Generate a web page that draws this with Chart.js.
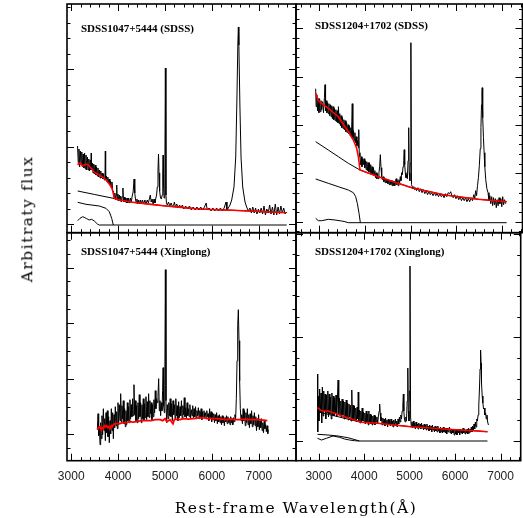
<!DOCTYPE html>
<html>
<head>
<meta charset="utf-8">
<script src="https://cdn.jsdelivr.net/npm/chart.js@4"></script>
<style>
  body { margin: 0; background: #fff; }
  #wrap { position: relative; width: 523px; height: 518px; overflow: hidden; background: #fff; }
  canvas { position: absolute; left: 0; top: 0; }
  .ptitle { position: absolute; font-family: 'Liberation Serif', serif; font-weight: bold; font-size: 11px; line-height: 11px; white-space: nowrap; color: #000; }
  .axt { position: absolute; font-family: 'DejaVu Serif', serif; font-size: 15.5px; line-height: 1; white-space: nowrap; color: #000; letter-spacing: 1.5px; }
</style>
</head>
<body>
<div id="wrap">
  <canvas id="cTL" width="523" height="518"></canvas>
  <canvas id="cTR" width="523" height="518"></canvas>
  <canvas id="cBL" width="523" height="518"></canvas>
  <canvas id="cBR" width="523" height="518"></canvas>
  <div class="ptitle" id="tTL" style="left:81px;top:23px"></div>
  <div class="ptitle" id="tTR" style="left:315px;top:20px"></div>
  <div class="ptitle" id="tBL" style="left:81px;top:246px"></div>
  <div class="ptitle" id="tBR" style="left:315px;top:246px"></div>
  <div class="axt" id="xTitle" style="left:146px;top:501px;width:300px;text-align:center"></div>
  <div class="axt" id="yTitle" style="left:28px;top:219px;transform:translate(-50%,-50%) rotate(-90deg)"></div>
</div>
<script>
// --- labels ---
const panelTitles = ['SDSS1047+5444 (SDSS)', 'SDSS1204+1702 (SDSS)', 'SDSS1047+5444 (Xinglong)', 'SDSS1204+1702 (Xinglong)'];
const xTitle = 'Rest-frame Wavelength(Å)';
const yTitle = 'Arbitraty flux';
const xTickLabels = [3000, 4000, 5000, 6000, 7000];

// --- SDSS1047+5444, SDSS spectrum [wavelength, flux] ---
const tlSpec = [
  [3135,79],[3150,62],[3165,76],[3180,58],[3195,74],[3210,60],[3225,73],[3240,58],[3255,71],[3270,57],
  [3285,72],[3300,56],[3315,70],[3330,55],[3345,68],[3360,55],[3375,66],[3390,54],[3405,65],[3420,55],
  [3426,72],[3432,56],[3450,62],[3465,52],[3480,61],[3495,51],[3510,60],[3525,50],[3540,58],[3555,49],
  [3570,57],[3585,48],[3600,55],[3615,47],[3630,54],[3645,47],[3660,52],[3675,46],[3690,51],[3705,45],
  [3720,50],[3727,74],[3734,45],[3750,49],[3765,43],[3780,48],[3795,42],[3810,46],[3825,40],[3840,44],
  [3855,37],[3869,43],[3885,33],[3900,34],[3915,27],[3930,32],[3945,25],[3960,30],[3970,40],[3980,25],
  [3995,31],[4010,24],[4025,30],[4040,24],[4055,29],[4070,23],[4085,28],[4102,37],[4115,23],[4130,28],
  [4145,23],[4160,27],[4175,22],[4190,27],[4205,22],[4220,27],[4240,22],[4260,27],[4280,23],[4300,29],
  [4320,33],[4340,46],[4355,32],[4370,26],[4385,22],[4400,26],[4420,21],[4440,25],[4460,21],[4480,25],
  [4500,21],[4520,25],[4545,21],[4570,25],[4595,21],[4620,25],[4645,22],[4665,26],[4686,30],[4705,23],
  [4725,26],[4745,21],[4765,26],[4785,22],[4805,27],[4820,30],[4835,38],[4850,55],[4861,71],[4872,52],
  [4885,34],[4900,28],[4920,26],[4940,30],[4952,48],[4959,70],[4966,40],[4980,27],[4995,40],[5007,157],
  [5019,30],[5030,22],[5050,20],[5075,23],[5100,19],[5130,22],[5160,18],[5190,21],[5200,23],[5220,18],
  [5250,21],[5280,17],[5310,20],[5340,17],[5370,20],[5400,16],[5440,19],[5480,16],[5520,19],[5560,15],
  [5600,18],[5640,15],[5680,18],[5720,15],[5760,18],[5800,15],[5840,18],[5876,22],[5900,15],[5940,17],
  [5980,14],[6020,17],[6060,14],[6100,17],[6140,14],[6180,17],[6220,14],[6260,17],[6300,23],[6320,15],
  [6349,17],[6385,20],[6421,25],[6470,38],[6507,68],[6530,120],[6552,180],[6563,198],[6574,180],[6596,120],
  [6620,68],[6656,38],[6705,23],[6740,18],[6776,14],[6810,17],[6840,12],[6870,18],[6900,12],[6930,17],
  [6960,11],[6990,16],[7020,12],[7050,17],[7080,11],[7110,19],[7140,10],[7170,16],[7200,12],[7230,20],
  [7260,11],[7290,18],[7320,10],[7350,21],[7380,10],[7410,18],[7440,11],[7470,19],[7500,12],[7530,17],
  [7560,11],[7594,13]
];
const tlFit = [
  [3138,60],[3170,62],[3209,61.5],[3240,59],[3279,60],[3310,61],[3351,60.5],[3390,58.5],[3422,56.7],[3470,54],
  [3528,51.7],[3599,50],[3650,48.5],[3705,46.7],[3750,44.5],[3799,41.7],[3840,39],[3869,36.7],[3895,32],[3918,26.7],
  [3955,25.7],[4300,22.8],[4700,20.6],[5021,19],[5400,17.4],[5731,16],[6100,15.3],[6443,14.7],[7000,13.5],[7579,12.3]
];
const tlPower = [[3138,34],[3500,30.5],[3918,26.5],[4300,22.8],[4700,20.6],[5021,19],[5731,16],[6443,14.7],[7579,12.3]];
const tlBalmer = [[3138,22.7],[3315,20.7],[3599,19],[3741,16.7],[3812,13.3],[3863,6.7],[3897,0]];
const tlHost = [[3138,4.3],[3187,6.7],[3245,8.3],[3292,7.3],[3330,6.3],[3384,5],[3437,5.7],[3492,4],[3565,0.7],[3599,0],[7594,0]];

// --- SDSS1204+1702, SDSS spectrum ---
const trSpec = [
  [2929,134],[2940,116],[2955,128],[2970,112],[2987,124],[3000,110],[3015,124],[3030,111],[3045,122],[3060,113],
  [3080,121],[3100,110],[3120,125],[3133,138],[3145,112],[3160,122],[3175,110],[3190,120],[3205,109],[3220,119],
  [3235,107],[3250,118],[3265,106],[3280,117],[3295,104],[3310,116],[3325,103],[3340,114],[3355,102],[3370,113],
  [3385,101],[3400,112],[3415,100],[3426,116],[3440,99],[3455,109],[3470,97],[3485,107],[3500,95],[3515,105],
  [3530,94],[3545,103],[3560,93],[3575,102],[3590,91],[3605,100],[3620,90],[3635,98],[3650,89],[3665,97],
  [3680,87],[3695,95],[3710,86],[3727,119],[3740,84],[3755,92],[3770,82],[3785,90],[3800,80],[3815,86],
  [3830,77],[3845,82],[3860,75],[3869,93],[3880,70],[3895,66],[3910,58],[3925,66],[3940,56],[3955,64],
  [3970,58],[3985,64],[4000,55],[4015,62],[4030,53],[4045,61],[4060,52],[4075,60],[4090,51],[4102,60],
  [4115,50],[4130,58],[4145,49],[4160,56],[4175,48],[4190,55],[4205,47],[4220,52],[4235,45],[4250,50],
  [4265,44],[4280,49],[4295,44],[4310,50],[4325,56],[4340,68],[4355,55],[4370,46],[4385,43],[4400,46],
  [4415,41],[4430,45],[4445,40],[4460,44],[4475,40],[4490,43],[4505,39],[4520,43],[4535,38],[4550,42],
  [4565,38],[4580,42],[4595,37],[4610,42],[4625,37],[4640,41],[4655,37],[4670,42],[4686,44],[4700,38],
  [4715,42],[4730,37],[4745,43],[4760,39],[4775,46],[4790,42],[4805,50],[4820,48],[4835,56],[4850,62],
  [4861,73],[4872,58],[4885,50],[4900,45],[4915,48],[4930,44],[4945,62],[4959,95],[4970,50],[4985,42],
  [4995,60],[5007,180],[5020,38],[5035,36],[5050,34],[5070,36],[5090,33],[5110,35],[5130,32],[5160,35],
  [5190,31],[5220,34],[5250,30],[5280,33],[5310,29],[5340,32],[5370,28],[5400,31],[5430,28],[5460,30],
  [5490,27],[5520,30],[5550,27],[5580,29],[5610,26],[5640,29],[5670,26],[5700,28],[5730,25],[5760,29],
  [5790,26],[5820,30],[5850,29],[5876,31],[5900,27],[5930,25],[5960,28],[5990,24],[6020,27],[6050,23],
  [6080,26],[6110,22],[6140,25],[6170,22],[6200,25],[6230,21],[6260,24],[6290,21],[6320,25],[6350,22],
  [6380,28],[6400,24],[6420,32],[6440,27],[6460,37],[6480,45],[6500,57],[6520,74],[6535,95],[6548,118],
  [6557,130],[6563,135],[6570,118],[6578,105],[6590,85],[6605,70],[6620,56],[6640,43],[6665,34],[6690,30],
  [6710,22],[6730,27],[6750,19],[6770,26],[6790,17],[6810,25],[6830,18],[6850,24],[6870,15],[6890,23],
  [6910,17],[6930,25],[6950,19],[6970,24],[6990,16],[7010,26],[7030,18],[7050,23],[7075,19]
];
const trFit = [
  [2929,129.4],[2990,122],[3060,119.4],[3205,114.4],[3424,106],[3642,91],[3751,82.7],[3824,74.4],[3860,66],[3896,52.7],
  [4296,46],[5024,35],[5751,27.7],[6478,23.4],[7096,21]
];
const trPower = [[2929,81],[3205,72.7],[3424,66],[3642,59.4],[3896,52.7],[4296,46],[5024,35],[5751,27.7],[6478,23.4],[7096,21]];
const trBalmer = [[2929,43.7],[3205,39.4],[3424,36],[3642,32.7],[3751,30],[3802,26],[3838,19.4],[3875,9.4],[3904,0]];
const trHost = [[2929,4.4],[2987,2],[3060,2],[3133,2.7],[3205,3.4],[3351,2.7],[3496,1.7],[3569,1],[3642,0],[7096,0]];

// --- SDSS1047+5444, Xinglong spectrum ---
const blSpec = [
  [3557,31],[3572,47],[3585,25],[3600,34],[3614,16],[3628,38],[3642,22],[3656,45],[3670,26],[3685,52],
  [3700,30],[3714,42],[3728,20],[3742,48],[3756,28],[3770,50],[3784,24],[3798,44],[3812,18],[3827,40],
  [3841,27],[3855,52],[3870,30],[3884,48],[3898,22],[3912,46],[3926,33],[3940,54],[3955,35],[3969,49],
  [3983,32],[3997,58],[4011,36],[4026,56],[4040,40],[4054,67],[4068,38],[4082,55],[4096,42],[4110,60],
  [4125,37],[4139,52],[4153,34],[4167,50],[4182,36],[4196,58],[4210,40],[4224,54],[4238,38],[4252,61],
  [4266,42],[4281,56],[4295,44],[4309,62],[4323,45],[4338,76],[4352,46],[4366,60],[4380,40],[4394,55],
  [4408,38],[4423,58],[4437,42],[4451,66],[4465,44],[4480,58],[4494,38],[4508,56],[4522,42],[4536,62],
  [4551,40],[4565,57],[4579,43],[4593,64],[4608,41],[4622,59],[4636,44],[4650,67],[4664,43],[4678,60],
  [4692,47],[4707,58],[4721,41],[4735,56],[4749,44],[4763,61],[4778,48],[4792,70],[4806,52],[4820,62],
  [4835,58],[4849,64],[4864,82],[4878,50],[4892,60],[4906,45],[4920,58],[4935,50],[4948,70],[4959,93],
  [4970,55],[4985,48],[4995,75],[5007,191],[5020,60],[5035,38],[5050,56],[5065,42],[5080,58],[5095,45],
  [5110,62],[5125,44],[5140,57],[5155,40],[5170,60],[5185,46],[5200,56],[5215,42],[5230,62],[5245,45],
  [5260,55],[5275,40],[5290,59],[5305,43],[5320,54],[5335,45],[5350,60],[5365,42],[5380,55],[5395,46],
  [5410,63],[5425,44],[5440,53],[5455,43],[5470,58],[5485,45],[5500,52],[5515,44],[5530,56],[5545,42],
  [5560,51],[5575,45],[5590,55],[5605,43],[5620,52],[5635,44],[5650,54],[5665,42],[5680,50],[5695,45],
  [5710,53],[5725,42],[5740,50],[5755,44],[5770,52],[5785,41],[5800,49],[5815,43],[5830,50],[5845,44],
  [5860,48],[5875,42],[5890,50],[5905,44],[5920,47],[5935,40],[5950,52],[5965,43],[5980,49],[5995,39],
  [6010,48],[6025,41],[6040,47],[6055,38],[6070,46],[6085,40],[6100,48],[6115,37],[6130,45],[6145,39],
  [6160,46],[6175,38],[6190,44],[6205,36],[6220,45],[6235,38],[6250,44],[6265,35],[6280,43],[6295,39],
  [6310,45],[6325,37],[6340,44],[6355,38],[6370,42],[6385,36],[6400,44],[6415,38],[6430,42],[6445,36],
  [6460,43],[6475,39],[6490,46],[6505,42],[6520,62],[6535,100],[6549,135],[6563,151],[6577,120],[6591,80],
  [6605,52],[6620,40],[6635,46],[6650,37],[6665,52],[6680,40],[6695,50],[6710,35],[6725,48],[6740,38],
  [6755,52],[6770,36],[6785,46],[6800,33],[6815,47],[6830,37],[6845,50],[6860,34],[6875,45],[6890,36],
  [6905,48],[6920,35],[6935,44],[6950,30],[6965,42],[6980,34],[6995,46],[7010,31],[7025,40],[7040,33],
  [7055,42],[7070,30],[7085,38],[7100,28],[7115,40],[7130,32],[7145,36],[7160,29],[7175,35],[7190,27],
  [7203,31]
];
const blFit = [
  [3557,31],[3585,33],[3614,34],[3640,31],[3660,33],[3685,32],[3710,35],[3735,34],[3756,35],[3780,33],
  [3800,34],[3827,32],[3850,35],[3875,34],[3898,36],[3930,37],[3969,37],[4040,37],[4100,38],[4182,38],
  [4250,39],[4320,38.5],[4396,39],[4500,40],[4609,40],[4700,40],[4800,41],[4893,41],[4950,40],[5000,42],
  [5040,39],[5106,41],[5170,37],[5200,41.5],[5319,41],[5400,42],[5500,41.5],[5604,42],[5700,42.5],[5817,43],
  [5900,42],[6000,42],[6101,42],[6200,41.5],[6314,41],[6400,41.5],[6500,41],[6599,41],[6700,41.5],[6800,41],
  [6900,41],[7025,41],[7100,40.5],[7181,40]
];

// --- SDSS1204+1702, Xinglong spectrum ---
const brSpec = [
  [2973,67],[2978,9],[2990,45],[3005,20],[3020,52],[3035,28],[3050,48],[3065,18],[3080,54],[3095,25],
  [3110,50],[3125,30],[3140,47],[3155,22],[3170,46],[3185,28],[3200,50],[3215,24],[3230,47],[3245,27],
  [3260,44],[3275,22],[3290,48],[3305,26],[3320,45],[3335,25],[3350,43],[3365,28],[3380,46],[3395,24],
  [3410,42],[3426,61],[3440,26],[3455,43],[3470,25],[3485,40],[3500,23],[3515,42],[3530,26],[3545,40],
  [3560,22],[3575,39],[3590,24],[3605,41],[3620,23],[3635,38],[3650,21],[3665,37],[3680,24],[3695,36],
  [3710,20],[3727,51],[3740,22],[3755,36],[3770,20],[3785,35],[3800,21],[3815,33],[3830,19],[3845,34],
  [3860,22],[3869,49],[3880,20],[3895,31],[3910,18],[3925,30],[3940,19],[3955,33],[3970,20],[3985,29],
  [4000,18],[4015,28],[4030,17],[4045,30],[4060,19],[4075,27],[4090,16],[4102,30],[4115,18],[4130,27],
  [4145,17],[4160,26],[4175,16],[4190,25],[4205,18],[4220,26],[4235,16],[4250,25],[4265,19],[4280,24],
  [4295,17],[4315,26],[4330,30],[4340,37],[4352,28],[4365,20],[4380,24],[4395,16],[4410,23],[4425,17],
  [4440,22],[4455,15],[4470,23],[4485,17],[4500,21],[4515,14],[4530,22],[4545,16],[4560,21],[4575,15],
  [4590,22],[4605,16],[4620,20],[4635,14],[4650,21],[4665,16],[4686,22],[4700,15],[4715,20],[4730,14],
  [4745,22],[4760,17],[4775,24],[4790,19],[4805,26],[4820,22],[4835,30],[4850,36],[4861,47],[4872,30],
  [4885,22],[4900,19],[4915,24],[4930,20],[4945,40],[4959,73],[4970,30],[4985,20],[4995,50],[5007,175],
  [5020,24],[5035,15],[5050,19],[5065,13],[5080,20],[5095,14],[5110,18],[5125,12],[5140,19],[5155,14],
  [5170,17],[5185,12],[5200,18],[5215,13],[5230,17],[5245,12],[5260,18],[5275,13],[5290,16],[5305,11],
  [5320,17],[5335,12],[5350,16],[5365,11],[5380,17],[5395,12],[5410,15],[5425,10],[5440,16],[5455,11],
  [5470,15],[5485,9],[5500,16],[5515,11],[5530,14],[5545,9],[5560,15],[5575,10],[5590,14],[5605,9],
  [5620,15],[5635,10],[5650,13],[5665,8],[5680,14],[5695,9],[5710,13],[5725,8],[5740,14],[5755,9],
  [5770,12],[5785,8],[5800,13],[5815,7],[5830,13],[5845,9],[5860,12],[5876,14],[5890,8],[5905,12],
  [5920,7],[5935,12],[5950,8],[5965,11],[5980,6],[5995,12],[6010,7],[6025,11],[6040,6],[6055,12],
  [6070,8],[6085,11],[6100,6],[6115,12],[6130,8],[6145,11],[6160,7],[6175,13],[6190,8],[6205,12],
  [6220,7],[6235,11],[6250,8],[6265,12],[6280,7],[6295,13],[6310,8],[6325,12],[6340,9],[6355,14],
  [6370,9],[6385,15],[6400,11],[6415,17],[6430,12],[6445,19],[6460,14],[6475,22],[6490,20],[6505,26],
  [6520,36],[6535,52],[6548,72],[6557,85],[6563,91],[6570,78],[6580,58],[6595,45],[6610,38],[6625,32],
  [6640,33],[6655,26],[6670,28],[6685,22],[6700,26],[6715,19],[6733,16]
];
const brFit = [
  [2973,33.3],[3060,30.3],[3205,30],[3351,27.7],[3569,24.3],[3787,21],[3933,18.7],[4296,17.7],[4660,16],[5024,14.3],
  [5387,13.3],[5751,12],[6115,11],[6406,10.3],[6711,9.3]
];
const brPower = [[2973,29.3],[3205,26.7],[3569,22.7],[3933,18.7],[4296,17.7],[4660,16],[5024,14.3],[5387,13.3],[5751,12],[6115,11],[6406,10.3],[6711,9.3]];
const brBalmer = [[2973,6.7],[3205,6],[3424,5],[3642,3.3],[3824,1],[3896,0]];
const brHost = [[2973,2.7],[3060,1],[3169,2.7],[3315,5],[3460,3.7],[3569,2],[3678,1],[3787,0.3],[3896,0],[6711,0]];

// --- frame with inward tick marks on all four sides ---
const frameTicks = {
  id: 'frameTicks',
  afterDatasetsDraw(chart, args, opts) {
    const { ctx, chartArea: a, scales: { x, y } } = chart;
    ctx.save();
    ctx.strokeStyle = '#000';
    ctx.lineWidth = 1;
    ctx.beginPath();
    for (let v = Math.ceil(x.min / opts.xStep) * opts.xStep; v <= x.max; v += opts.xStep) {
      const px = Math.round(x.getPixelForValue(v)) + 0.5;
      const len = v % opts.xMajor === 0 ? 7 : 3.5;
      ctx.moveTo(px, a.bottom); ctx.lineTo(px, a.bottom - len);
      ctx.moveTo(px, a.top); ctx.lineTo(px, a.top + len);
    }
    for (let i = 0; ; i++) {
      const v = opts.yStart + i * opts.yStep;
      if (v > y.max) break;
      if (v < y.min) continue;
      const py = Math.round(y.getPixelForValue(v)) + 0.5;
      const len = ((i - opts.yMajorIdx) % opts.yEvery + opts.yEvery) % opts.yEvery === 0 ? 7 : 3.5;
      ctx.moveTo(a.left, py); ctx.lineTo(a.left + len, py);
      ctx.moveTo(a.right, py); ctx.lineTo(a.right - len, py);
    }
    ctx.stroke();
    ctx.lineWidth = 1.6;
    ctx.strokeRect(a.left, a.top, a.width, a.height);
    ctx.restore();
  }
};

function line(data, color, width) {
  return { data, borderColor: color, borderWidth: width, pointRadius: 0, fill: false, tension: 0 };
}

function makePanel(id, datasets, xr, yr, ticks, pad, showX) {
  const xScale = {
    type: 'linear', min: xr[0], max: xr[1], display: showX,
    grid: { display: false, drawTicks: false },
    border: { display: false },
    afterBuildTicks: s => { s.ticks = xTickLabels.map(v => ({ value: v })); },
    ticks: {
      padding: 9, autoSkip: false, maxRotation: 0, color: '#222',
      font: { family: 'Liberation Sans', size: 12 },
      callback: v => String(v)
    }
  };
  // only the lower panels carry tick labels, fixed height strip below the frame
  if (showX) xScale.afterFit = s => { s.height = 20; };
  return new Chart(document.getElementById(id), {
    type: 'line',
    data: { datasets },
    options: {
      responsive: false,
      animation: false,
      events: [],
      layout: { padding: pad },
      plugins: { legend: { display: false }, tooltip: { enabled: false }, frameTicks: ticks },
      scales: {
        x: xScale,
        y: { type: 'linear', min: yr[0], max: yr[1], display: false }
      }
    },
    plugins: [frameTicks]
  });
}

const RED = '#ff0000', BLK = '#000000';
const leftRange = [2910, 7792], rightRange = [2500, 7442];

makePanel('cTL',
  [line(tlFit, RED, 1.6), line(tlSpec, BLK, 1), line(tlPower, BLK, 1), line(tlBalmer, BLK, 1), line(tlHost, BLK, 1)],
  leftRange, [-7.7, 221],
  { xStep: 200, xMajor: 1000, yStart: 0.9, yStep: 15.48, yMajorIdx: 0, yEvery: 5 },
  { left: 67, top: 4, right: 227, bottom: 285.3 }, false);

makePanel('cTR',
  [line(trFit, RED, 1.6), line(trSpec, BLK, 1), line(trPower, BLK, 1), line(trBalmer, BLK, 1), line(trHost, BLK, 1)],
  rightRange, [-10, 218.7],
  { xStep: 200, xMajor: 1000, yStart: -8.56, yStep: 9.66, yMajorIdx: 1, yEvery: 5 },
  { left: 296, top: 4, right: 0.5, bottom: 285.3 }, false);

makePanel('cBL',
  [line(blFit, RED, 1.8), line(blSpec, BLK, 1)],
  leftRange, [0, 228],
  { xStep: 200, xMajor: 1000, yStart: 12.5, yStep: 13.9, yMajorIdx: 1, yEvery: 4 },
  { left: 67, top: 232.7, right: 227, bottom: 37.3 }, true);

makePanel('cBR',
  [line(brFit, RED, 1.6), line(brSpec, BLK, 1), line(brPower, BLK, 1), line(brBalmer, BLK, 1), line(brHost, BLK, 1)],
  rightRange, [-19.7, 208.3],
  { xStep: 200, xMajor: 1000, yStart: 0.2, yStep: 20.7, yMajorIdx: 0, yEvery: 5 },
  { left: 296, top: 232.7, right: 0.5, bottom: 37.3 }, true);

['tTL', 'tTR', 'tBL', 'tBR'].forEach((id, i) => { document.getElementById(id).textContent = panelTitles[i]; });
document.getElementById('xTitle').textContent = xTitle;
document.getElementById('yTitle').textContent = yTitle;
</script>
</body>
</html>
